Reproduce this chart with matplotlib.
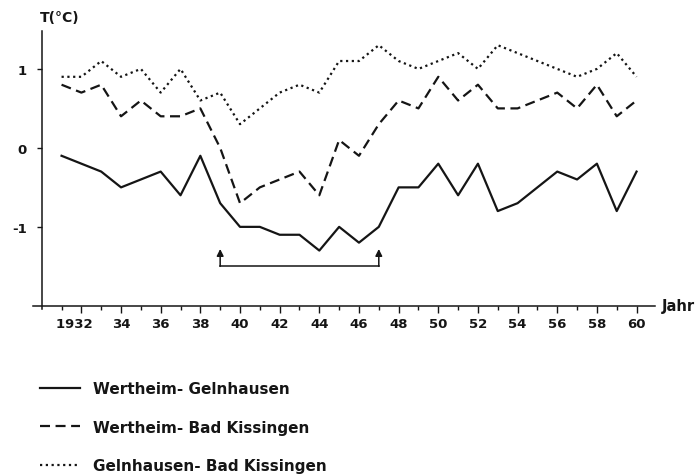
import matplotlib

matplotlib.use("Agg")
import matplotlib.pyplot as plt
from matplotlib.ticker import FixedLocator

years = list(range(1931, 1961))

# Temperaturdifferenzen (Grad C) zwischen den Stationen
wertheim_gelnhausen = [
    -0.1, -0.2, -0.3, -0.5, -0.4, -0.3, -0.6, -0.1, -0.7, -1.0,
    -1.0, -1.1, -1.1, -1.3, -1.0, -1.2, -1.0, -0.5, -0.5, -0.2,
    -0.6, -0.2, -0.8, -0.7, -0.5, -0.3, -0.4, -0.2, -0.8, -0.3,
]
wertheim_bad_kissingen = [
    0.8, 0.7, 0.8, 0.4, 0.6, 0.4, 0.4, 0.5, 0.0, -0.7,
    -0.5, -0.4, -0.3, -0.6, 0.1, -0.1, 0.3, 0.6, 0.5, 0.9,
    0.6, 0.8, 0.5, 0.5, 0.6, 0.7, 0.5, 0.8, 0.4, 0.6,
]
gelnhausen_bad_kissingen = [
    0.9, 0.9, 1.1, 0.9, 1.0, 0.7, 1.0, 0.6, 0.7, 0.3,
    0.5, 0.7, 0.8, 0.7, 1.1, 1.1, 1.3, 1.1, 1.0, 1.1,
    1.2, 1.0, 1.3, 1.2, 1.1, 1.0, 0.9, 1.0, 1.2, 0.9,
]
series_labels = [
    "Wertheim- Gelnhausen",
    "Wertheim- Bad Kissingen",
    "Gelnhausen- Bad Kissingen",
]

# Klammer mit Pfeilen (Zeitraum 1939-1947)
bracket_years = [1939, 1947]
bracket_base = -1.5
bracket_tip = -1.28

major_years = list(range(1932, 1961, 2))
minor_years = list(range(1931, 1961, 2))
# "19" steht links vor der "32", daher etwas nach links versetzt
major_labels = ["1932   "] + [str(y % 100) for y in major_years[1:]]
y_ticks = [-1, 0, 1]

plt.rcParams["axes.unicode_minus"] = False
plt.rcParams["font.family"] = ["DejaVu Sans"]
plt.rcParams["font.weight"] = "bold"

ink = "#151515"

fig = plt.figure(figsize=(7.0, 4.77), dpi=100)
ax = fig.add_axes([33 / 700, 1 - 310 / 477, 622 / 700, 278 / 477])

h1, = ax.plot(years, wertheim_gelnhausen, color=ink, lw=1.6, ls="-")
h2, = ax.plot(years, wertheim_bad_kissingen, color=ink, lw=1.6, ls=(0, (4.5, 2.5)))
h3, = ax.plot(years, gelnhausen_bad_kissingen, color=ink, lw=1.6, ls=(0, (1, 1.6)))

ax.plot(bracket_years, [bracket_base, bracket_base], color=ink, lw=1.1)
for yr in bracket_years:
    ax.annotate(
        "",
        xy=(yr, bracket_tip),
        xytext=(yr, bracket_base),
        arrowprops=dict(arrowstyle="-|>", color=ink, lw=1.1,
                        mutation_scale=10, shrinkA=0, shrinkB=0),
    )

ax.set_xlim(1929.56, 1960.93)
ax.set_ylim(-2.04, 1.48)

for side in ("top", "right"):
    ax.spines[side].set_visible(False)
ax.spines["bottom"].set_position(("data", -2))
ax.spines["left"].set_position(("data", 1930))
for side in ("bottom", "left"):
    ax.spines[side].set_linewidth(1.1)
    ax.spines[side].set_color(ink)

ax.xaxis.set_major_locator(FixedLocator(major_years))
ax.xaxis.set_minor_locator(FixedLocator(minor_years))
ax.set_xticklabels(major_labels)
ax.set_yticks(y_ticks)
ax.set_yticklabels([str(v) for v in y_ticks])

ax.tick_params(axis="x", which="major", direction="out", length=5, width=1.0,
               pad=3, labelsize=9.5, colors=ink)
ax.tick_params(axis="x", which="minor", direction="out", length=3, width=1.0,
               colors=ink)
ax.tick_params(axis="y", which="major", direction="out", length=3.6, width=1.0,
               pad=7, labelsize=9.5, colors=ink)
for lab in ax.get_xticklabels() + ax.get_yticklabels():
    lab.set_fontweight("bold")

fig.text(40 / 700, 1 - 18 / 477, "T(\u00b0C)", ha="left", va="center",
         fontsize=10, fontweight="bold", color=ink)
fig.text(662 / 700, 1 - 307 / 477, "Jahr", ha="left", va="center",
         fontsize=10.5, fontweight="bold", color=ink)

fig.legend(
    [h1, h2, h3],
    series_labels,
    loc="upper left",
    bbox_to_anchor=(40 / 700, 1 - 382 / 477),
    frameon=False,
    borderpad=0,
    borderaxespad=0,
    handlelength=2.6,
    handletextpad=0.85,
    labelspacing=1.55,
    prop=dict(size=11, weight="bold"),
    labelcolor=ink,
)

fig.savefig("out.png", dpi=100, facecolor="white")
plt.close(fig)
